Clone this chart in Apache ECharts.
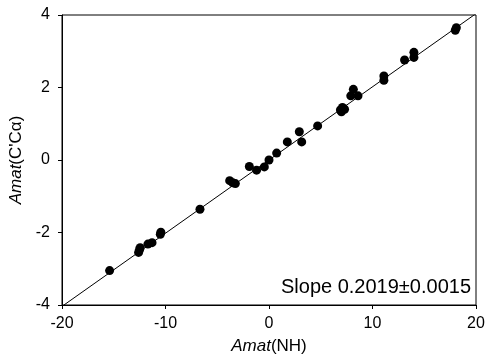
<!DOCTYPE html>
<html><head><meta charset="utf-8">
<script src="https://cdn.jsdelivr.net/npm/echarts@6/dist/echarts.min.js"></script>
<style>html,body{margin:0;padding:0;background:#fff}#c{width:485px;height:358px}</style>
</head><body><div id="c"></div>
<script>
var xTicks = [-20, -10, 0, 10, 20];
var yTicks = [-4, -2, 0, 2, 4];
var amatNH = [-15.4, -12.6, -12.5, -12.45, -11.7, -11.3, -10.5, -10.45, -6.67, -3.8, -3.5, -3.25,
  -1.9, -1.2, -0.45, 0.0, 0.74, 1.77, 2.93, 3.16, 4.7, 6.9, 7.1, 7.3, 7.0, 7.9, 8.15, 8.6,
  11.1, 11.1, 13.1, 14.0, 14.0, 18.0, 18.1];
var amatCCa = [-3.05, -2.55, -2.47, -2.42, -2.32, -2.28, -2.05, -1.99, -1.36, -0.57, -0.63, -0.65,
  -0.18, -0.28, -0.19, 0.0, 0.19, 0.5, 0.78, 0.5, 0.94, 1.38, 1.45, 1.4, 1.33, 1.77, 1.95, 1.77,
  2.2, 2.32, 2.76, 2.83, 2.97, 3.58, 3.65];
var fitX = [-20, 20];
var fitY = [-4.038, 4.038];
var slopeLabel = 'Slope 0.2019\u00B10.0015';

var pts = amatNH.map(function(x, i){ return [x, amatCCa[i]]; });
var fit = fitX.map(function(x, i){ return [x, fitY[i]]; });
var font = 'Liberation Sans, Arial, sans-serif';
var chart = echarts.init(document.getElementById('c'), null, {renderer:'canvas'});
chart.setOption({
  animation: false,
  grid: {left: 62, right: 9, top: 15, bottom: 53, containLabel: false, outerBoundsMode: 'none',
    show: true, borderColor: '#000', borderWidth: 1},
  xAxis: {
    type: 'value', min: xTicks[0], max: xTicks[xTicks.length-1], interval: 10,
    axisLine: {onZero: false, lineStyle: {color: '#000', width: 1}},
    axisTick: {inside: false, length: 4, lineStyle: {color: '#000'}},
    splitLine: {show: false},
    axisLabel: {color: '#000', fontSize: 16, fontFamily: font, margin: 11},
    name: '{i|Amat}(NH)', nameLocation: 'middle', nameGap: 33,
    nameTextStyle: {color: '#000', fontSize: 17, fontFamily: font,
      rich: {i: {fontStyle: 'italic', fontSize: 17, fontFamily: font, color: '#000'}}}
  },
  yAxis: {
    type: 'value', min: yTicks[0], max: yTicks[yTicks.length-1], interval: 2,
    axisLine: {onZero: false, lineStyle: {color: '#000', width: 1}},
    axisTick: {inside: false, length: 4, lineStyle: {color: '#000'}},
    splitLine: {show: false},
    axisLabel: {color: '#000', fontSize: 16, fontFamily: font, margin: 12},
    name: '{i|Amat}(C\'C\u03B1)', nameLocation: 'middle', nameGap: 37,
    nameTextStyle: {color: '#000', fontSize: 17, fontFamily: font,
      rich: {i: {fontStyle: 'italic', fontSize: 17, fontFamily: font, color: '#000'}}}
  },
  series: [
    {type: 'line', data: fit, symbol: 'none', clip: true, lineStyle: {color: '#000', width: 1}, z: 1},
    {type: 'scatter', data: pts, symbol: 'circle', symbolSize: 9, itemStyle: {color: '#000', opacity: 1}, z: 2}
  ],
  graphic: [{
    type: 'text', right: 14, top: 277,
    style: {text: slopeLabel, fill: '#000', fontSize: 20, fontFamily: font}
  }]
});
</script></body></html>
